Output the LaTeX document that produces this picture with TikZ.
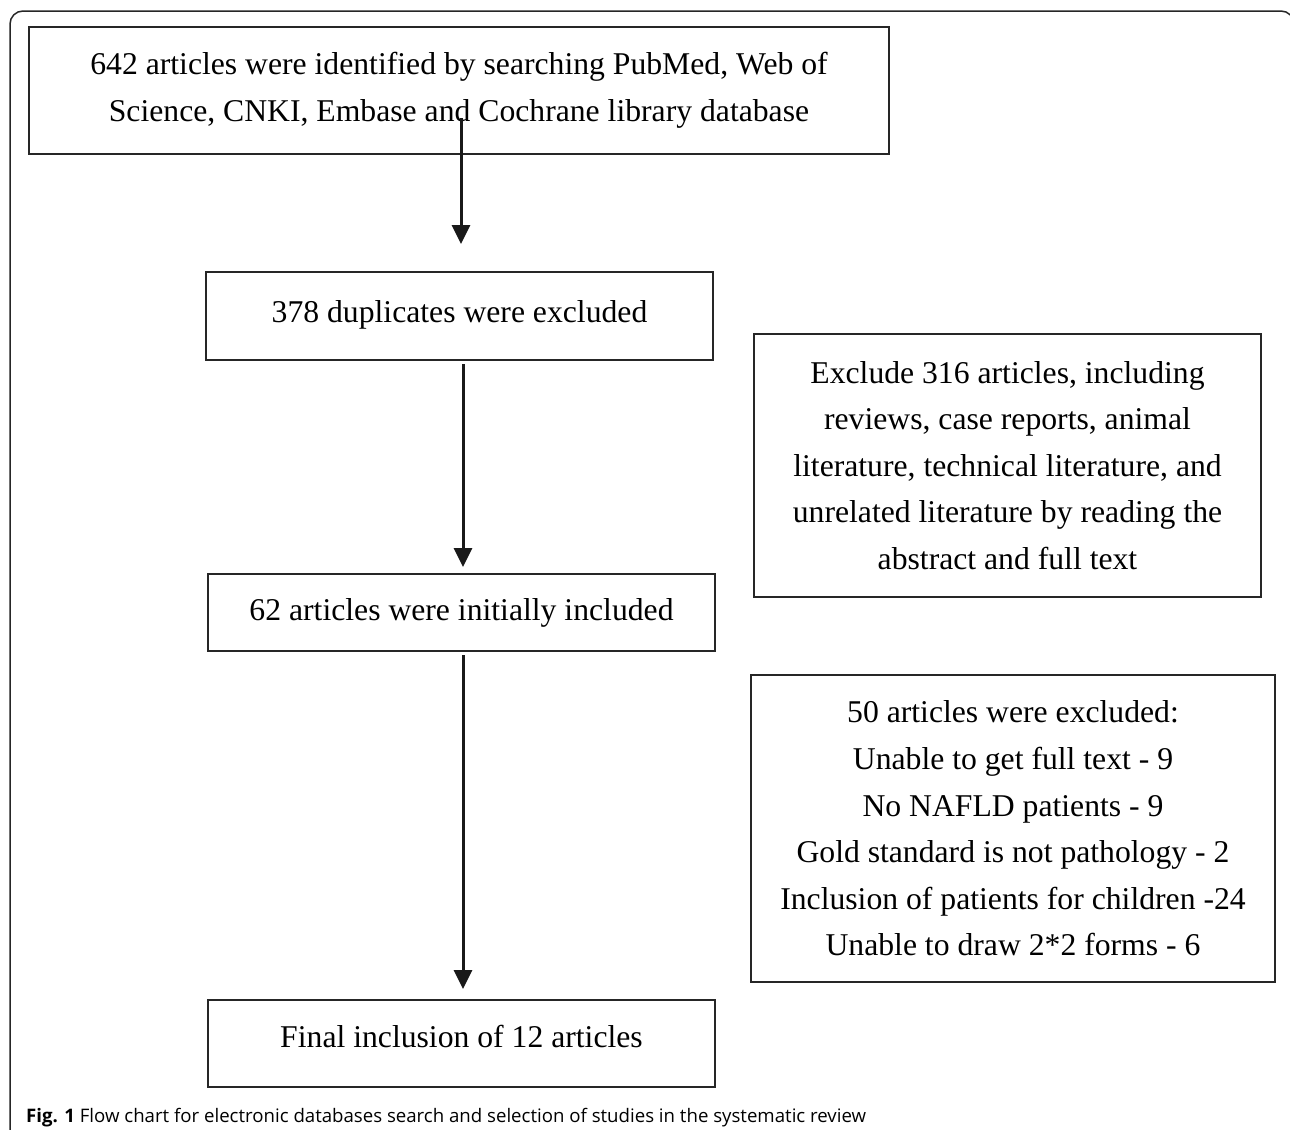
\documentclass[tikz,border=0pt]{standalone}
\usepackage{fontspec}
\setmainfont{Liberation Serif}
\newfontfamily\capfont{Open Sans}
\usetikzlibrary{arrows.meta}
\begin{document}
\begin{tikzpicture}[x=1bp,y=-1bp,
  box/.style={draw=black!85,line width=1.5bp,inner sep=0pt,align=center,
    font=\fontsize{31.8}{46.8}\selectfont},
  flow/.style={line width=3bp,draw=black!90,-{Triangle[length=19bp,width=18bp]}}]
\useasboundingbox (0,0) rectangle (1290,1130);
\clip (0,0) rectangle (1290,1130);
\fill[white] (0,0) rectangle (1290,1130);
% frame
\draw[line width=1.5bp,black!85,rounded corners=13bp] (10,1140) -- (10,11) -- (1294,11) -- (1294,1140);
% boxes
\node[box,minimum width=860bp,minimum height=127bp] (b1) at (459,90.5)
  {642 articles were identified by searching PubMed, Web of\\Science, CNKI, Embase and Cochrane library database};
\node[box,minimum width=507bp,minimum height=88bp] (b2) at (459.5,316)
  {\raisebox{8bp}{378 duplicates were excluded}};
\node[box,minimum width=507bp,minimum height=263bp] (b3) at (1007.5,465.5)
  {Exclude 316 articles, including\\reviews, case reports, animal\\literature, technical literature, and\\unrelated literature by reading the\\abstract and full text};
\node[box,minimum width=507bp,minimum height=77bp] (b4) at (461.5,612.5)
  {\raisebox{2bp}{62 articles were initially included}};
\node[box,minimum width=524bp,minimum height=307bp] (b5) at (1013,828.5)
  {50 articles were excluded:\\Unable to get full text - 9\\No NAFLD patients - 9\\Gold standard is not pathology - 2\\Inclusion of patients for children -24\\Unable to draw 2*2 forms - 6};
\node[box,minimum width=507bp,minimum height=87bp] (b6) at (461.5,1043.5)
  {\raisebox{14bp}{Final inclusion of 12 articles}};
% arrows
\coordinate (a1s) at (461,118);
\coordinate (a1e) at (461,244);
\coordinate (a2s) at (463,364);
\coordinate (a2e) at (463,567);
\coordinate (a3s) at (463,655);
\coordinate (a3e) at (463,989);
\draw[flow] (a1s) -- (a1e);
\draw[flow] (a2s) -- (a2e);
\draw[flow] (a3s) -- (a3e);
% caption
\node[anchor=base west,inner sep=0pt,font=\capfont\fontsize{18.7}{20}\selectfont] (cap) at (26,1122)
  {\textbf{Fig. 1} Flow chart for electronic databases search and selection of studies in the systematic review};
\end{tikzpicture}
\end{document}
